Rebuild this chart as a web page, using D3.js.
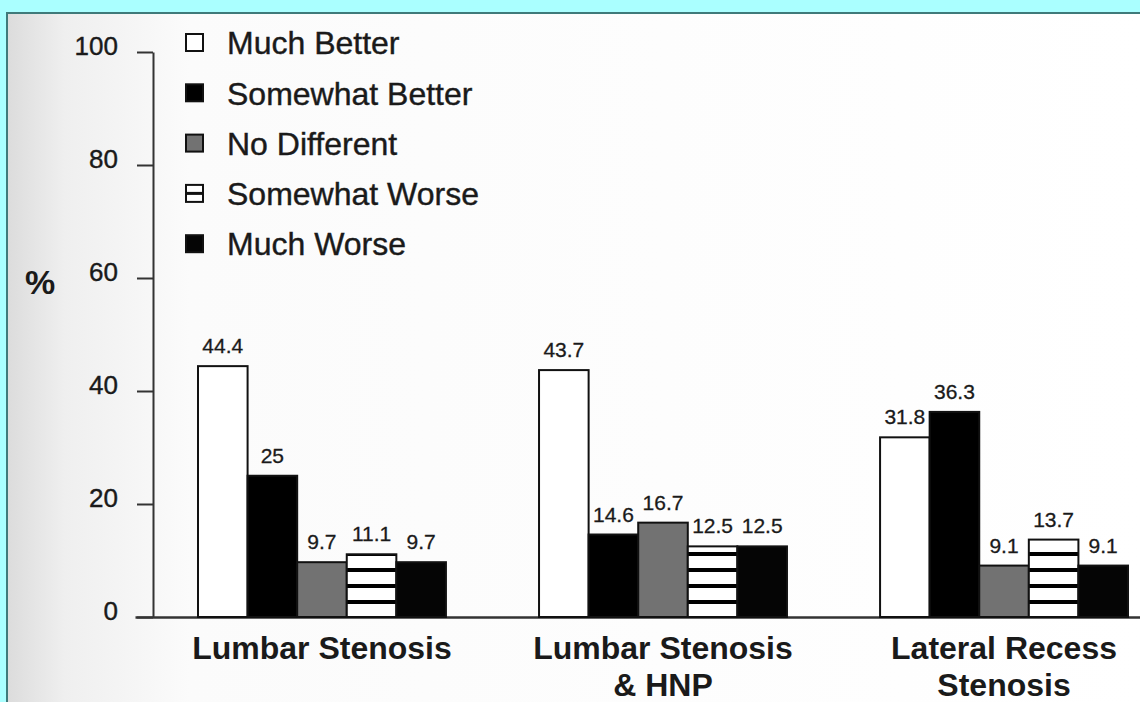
<!DOCTYPE html>
<html>
<head>
<meta charset="utf-8">
<script src="https://cdn.jsdelivr.net/npm/d3@7"></script>
<style>
  html, body { margin: 0; padding: 0; background: #aaffff; }
  svg { display: block; }
  text { font-family: "Liberation Sans", Arial, Helvetica, sans-serif; fill: #1a1a1a; }
</style>
</head>
<body>
<svg id="chart" width="1140" height="702"></svg>
<script>
// ---- data ----
const categories = ["Lumbar Stenosis", "Lumbar Stenosis & HNP", "Lateral Recess Stenosis"];
const categoryLines = [["Lumbar Stenosis"], ["Lumbar Stenosis", "& HNP"], ["Lateral Recess", "Stenosis"]];
const seriesNames = ["Much Better", "Somewhat Better", "No Different", "Somewhat Worse", "Much Worse"];
const muchBetter = [44.4, 43.7, 31.8];
const somewhatBetter = [25, 14.6, 36.3];
const noDifferent = [9.7, 16.7, 9.1];
const somewhatWorse = [11.1, 12.5, 13.7];
const muchWorse = [9.7, 12.5, 9.1];
const valueLabels = [
  ["44.4", "43.7", "31.8"],
  ["25", "14.6", "36.3"],
  ["9.7", "16.7", "9.1"],
  ["11.1", "12.5", "13.7"],
  ["9.7", "12.5", "9.1"]
];
const yTicks = [0, 20, 40, 60, 80, 100];
const yAxisTitle = "%";

const seriesValues = [muchBetter, somewhatBetter, noDifferent, somewhatWorse, muchWorse];

// ---- styling ----
const fills = ["#ffffff", "#000000", "#727272", "url(#stripes)", "#050505"];

const svg = d3.select("#chart");
const defs = svg.append("defs");

const grad = defs.append("linearGradient").attr("id", "pageShade")
  .attr("x1", 0).attr("x2", 1).attr("y1", 0).attr("y2", 0);
grad.append("stop").attr("offset", "0").attr("stop-color", "#dcdcdc");
grad.append("stop").attr("offset", "0.05").attr("stop-color", "#efefef");
grad.append("stop").attr("offset", "0.16").attr("stop-color", "#fbfbfb");
grad.append("stop").attr("offset", "1").attr("stop-color", "#ffffff");

const pat = defs.append("pattern").attr("id", "stripes")
  .attr("patternUnits", "userSpaceOnUse")
  .attr("x", 0).attr("y", 0).attr("width", 16).attr("height", 16);
pat.append("rect").attr("width", 16).attr("height", 16).attr("fill", "#ffffff");
pat.append("rect").attr("y", 8).attr("width", 16).attr("height", 4).attr("fill", "#000");

// page background (scanned sheet)
svg.append("rect").attr("x", 6).attr("y", 12).attr("width", 1134).attr("height", 690)
  .attr("fill", "#3f7a7a");
svg.append("rect").attr("x", 8).attr("y", 14).attr("width", 1132).attr("height", 688)
  .attr("fill", "url(#pageShade)");

// ---- scales ----
const y = d3.scaleLinear().domain([0, 100]).range([617, 52]);
const x0 = d3.scaleBand().domain(categories).range([198, 1128]).paddingInner(0.273).paddingOuter(0);
const x1 = d3.scaleBand().domain(seriesNames).range([0, x0.bandwidth()]).padding(0);

// ---- axes ----
const yAxis = d3.axisLeft(y).tickValues(yTicks).tickSize(16).tickSizeOuter(0).tickPadding(19);
const gy = svg.append("g").attr("transform", "translate(153,0)").call(yAxis);
gy.selectAll("path, line").attr("stroke", "#333").attr("stroke-width", 2);
gy.selectAll("text").attr("font-size", 26).attr("dy", "0.1em")
  .style("font-family", "'Liberation Sans', Arial, sans-serif").attr("fill", "#1a1a1a")
  .attr("stroke", "#1a1a1a").attr("stroke-width", 0.4);

const xLine = d3.scaleLinear().domain([0, 1]).range([135, 1140]);
const gx = svg.append("g").attr("transform", "translate(0,617)")
  .call(d3.axisBottom(xLine).tickValues([]).tickSizeOuter(0));
gx.select("path").attr("stroke", "#333").attr("stroke-width", 2.5);

svg.append("text").attr("x", 40).attr("y", 294).attr("text-anchor", "middle")
  .attr("font-size", 34).attr("font-weight", "bold").text(yAxisTitle);

// ---- bars ----
const groups = svg.append("g").selectAll("g").data(categories).join("g")
  .attr("transform", d => `translate(${x0(d)},0)`);

groups.each(function(cat, ci) {
  const g = d3.select(this);
  const rows = seriesNames.map((s, si) => ({ s, si, v: seriesValues[si][ci], label: valueLabels[si][ci] }));
  g.selectAll("rect").data(rows).join("rect")
    .attr("x", d => x1(d.s))
    .attr("y", d => y(d.v))
    .attr("width", x1.bandwidth())
    .attr("height", d => y(0) - y(d.v))
    .attr("fill", d => fills[d.si])
    .attr("stroke", "#111")
    .attr("stroke-width", 2);
  g.selectAll("text.val").data(rows).join("text").attr("class", "val")
    .attr("x", d => x1(d.s) + x1.bandwidth() / 2)
    .attr("y", d => y(d.v) - 13)
    .attr("text-anchor", "middle")
    .attr("font-size", 21)
    .attr("stroke", "#1a1a1a").attr("stroke-width", 0.3)
    .text(d => d.label);
});

// ---- category labels ----
const catLabels = svg.append("g").selectAll("text").data(categories).join("text")
  .attr("x", d => x0(d) + x0.bandwidth() / 2)
  .attr("y", 659)
  .attr("text-anchor", "middle")
  .attr("font-size", 32)
  .attr("font-weight", "bold");
catLabels.each(function(d, i) {
  d3.select(this).selectAll("tspan").data(categoryLines[i]).join("tspan")
    .attr("x", x0(d) + x0.bandwidth() / 2)
    .attr("dy", (t, j) => j === 0 ? 0 : 37)
    .text(t => t);
});

// ---- legend ----
const legend = svg.append("g").selectAll("g").data(seriesNames).join("g")
  .attr("transform", (d, i) => `translate(186,${43 + i * 50.3})`);
legend.append("rect")
  .attr("x", 0).attr("y", -9).attr("width", 17).attr("height", 17)
  .attr("fill", (d, i) => i === 3 ? "#fff" : fills[i])
  .attr("stroke", "#111").attr("stroke-width", 2);
legend.filter((d, i) => i === 3).append("rect")
  .attr("x", 0).attr("y", -2).attr("width", 17).attr("height", 3).attr("fill", "#111");
legend.append("text")
  .attr("x", 41).attr("y", 0).attr("dy", "0.35em")
  .attr("font-size", 32)
  .attr("stroke", "#1a1a1a").attr("stroke-width", 0.4)
  .text(d => d);
</script>
</body>
</html>
